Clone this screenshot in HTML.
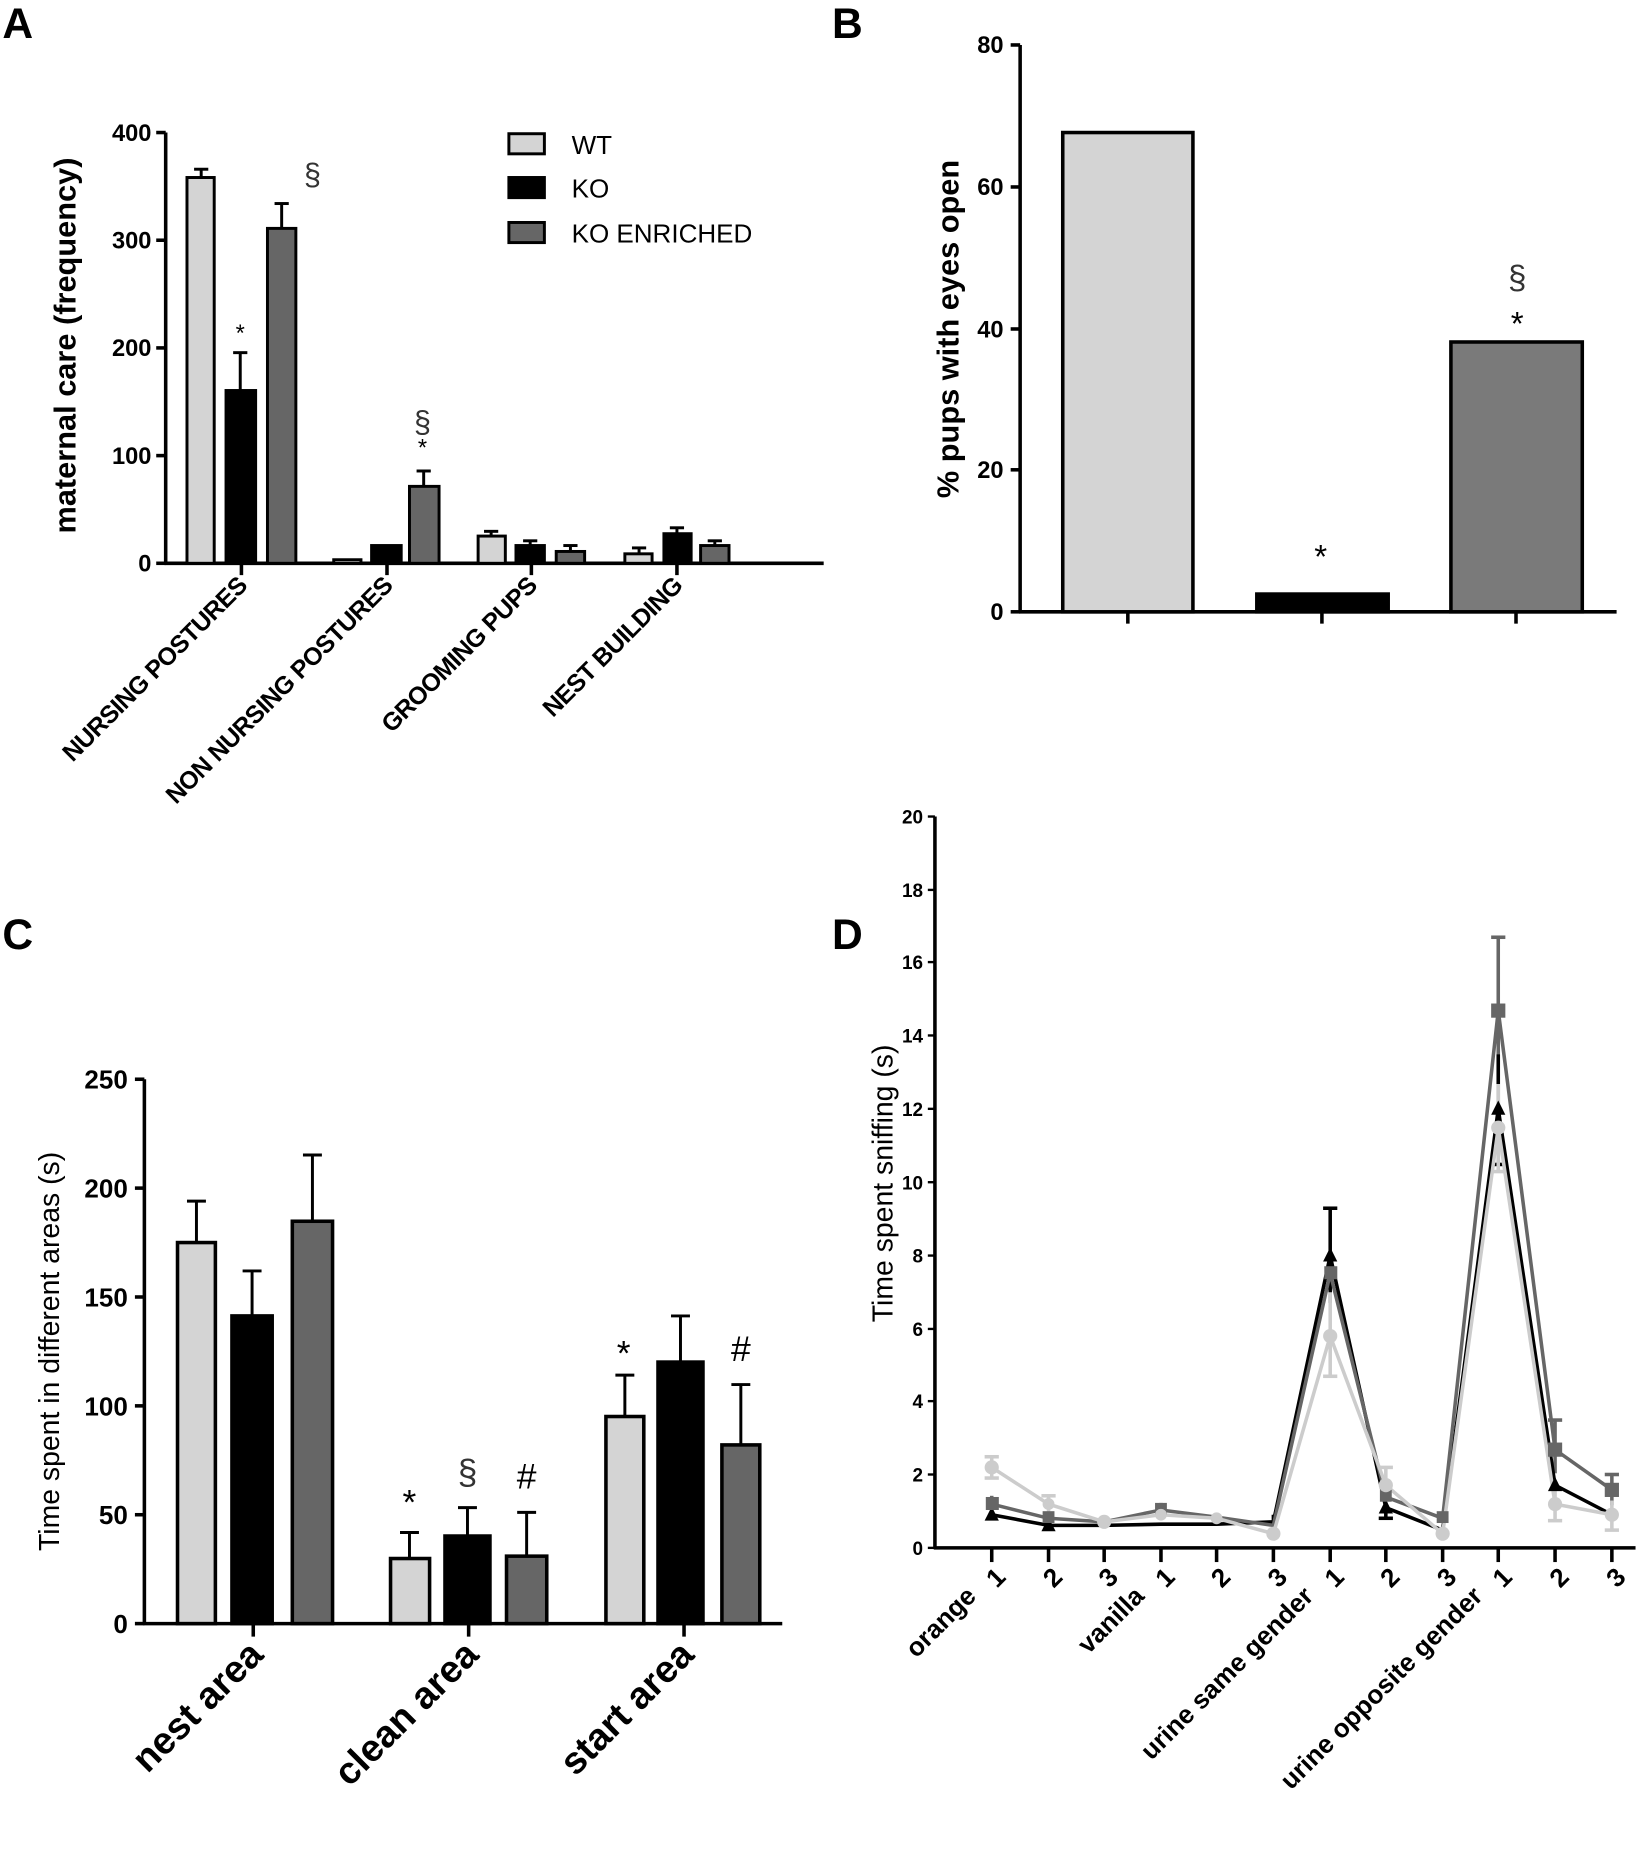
<!DOCTYPE html>
<html><head><meta charset="utf-8"><style>
html,body{margin:0;padding:0;background:#fff;}
svg{display:block;}
text{font-family:"Liberation Sans",Arial,sans-serif;}
</style></head><body>
<svg width="1645" height="1852" viewBox="0 0 1390 1565" preserveAspectRatio="none" xmlns="http://www.w3.org/2000/svg">
<rect width="1390" height="1565" fill="#fff"/>
<g font-weight="bold" font-size="36" fill="#000">
<text x="2" y="32">A</text><text x="703" y="32">B</text><text x="2" y="802">C</text><text x="703" y="802">D</text>
</g>

<!-- PANEL A -->
<g stroke="#000" stroke-width="3" fill="none">
<line x1="140" y1="112" x2="140" y2="477"/>
<line x1="139" y1="476" x2="696" y2="476"/>
<line x1="132" y1="112" x2="140" y2="112"/><line x1="132" y1="203" x2="140" y2="203"/><line x1="132" y1="294" x2="140" y2="294"/><line x1="132" y1="385" x2="140" y2="385"/><line x1="132" y1="476" x2="140" y2="476"/>
<line x1="204" y1="476" x2="204" y2="486"/><line x1="327" y1="476" x2="327" y2="486"/><line x1="449" y1="476" x2="449" y2="486"/><line x1="572" y1="476" x2="572" y2="486"/>
</g>
<g font-size="20" font-weight="bold" text-anchor="end">
<text x="128" y="119">400</text><text x="128" y="210">300</text><text x="128" y="301">200</text><text x="128" y="392">100</text><text x="128" y="483">0</text>
</g>
<text transform="translate(64,292) rotate(-90)" text-anchor="middle" font-size="26" font-weight="bold">maternal care (frequency)</text>
<g stroke="#000" stroke-width="2.5">
<line x1="170" y1="150" x2="170" y2="143"/><line x1="164" y1="143" x2="176" y2="143"/>
<line x1="203" y1="330" x2="203" y2="298"/><line x1="197" y1="298" x2="209" y2="298"/>
<line x1="238" y1="193" x2="238" y2="172"/><line x1="232" y1="172" x2="244" y2="172"/>
<line x1="358" y1="411" x2="358" y2="398"/><line x1="352" y1="398" x2="364" y2="398"/>
<line x1="415" y1="453" x2="415" y2="449"/><line x1="409" y1="449" x2="421" y2="449"/>
<line x1="448" y1="461" x2="448" y2="457"/><line x1="442" y1="457" x2="454" y2="457"/>
<line x1="482" y1="466" x2="482" y2="461"/><line x1="476" y1="461" x2="488" y2="461"/>
<line x1="540" y1="468" x2="540" y2="463"/><line x1="534" y1="463" x2="546" y2="463"/>
<line x1="572" y1="451" x2="572" y2="446"/><line x1="566" y1="446" x2="578" y2="446"/>
<line x1="604" y1="461" x2="604" y2="457"/><line x1="598" y1="457" x2="610" y2="457"/>
</g>
<g stroke="#000" stroke-width="2.5">
<rect x="158" y="150" width="23" height="326" fill="#d4d4d4"/>
<rect x="191" y="330" width="25" height="146" fill="#000"/>
<rect x="226" y="193" width="24" height="283" fill="#666"/>
<rect x="282" y="473" width="23" height="3" fill="#d4d4d4"/>
<rect x="314" y="461" width="25" height="15" fill="#000"/>
<rect x="346" y="411" width="25" height="65" fill="#666"/>
<rect x="404" y="453" width="23" height="23" fill="#d4d4d4"/>
<rect x="436" y="461" width="24" height="15" fill="#000"/>
<rect x="470" y="466" width="24" height="10" fill="#666"/>
<rect x="528" y="468" width="23" height="8" fill="#d4d4d4"/>
<rect x="561" y="451" width="23" height="25" fill="#000"/>
<rect x="592" y="461" width="24" height="15" fill="#666"/>
<rect x="430" y="113" width="30" height="17" fill="#d4d4d4"/>
<rect x="430" y="150" width="30" height="17" fill="#000"/>
<rect x="430" y="188" width="30" height="17" fill="#666"/>
</g>
<g font-size="22">
<text x="483" y="130">WT</text><text x="483" y="167">KO</text><text x="483" y="205">KO ENRICHED</text>
</g>
<g font-size="20" text-anchor="middle">
<text x="203" y="288">*</text><text x="357" y="385">*</text>
</g>
<g font-size="26" text-anchor="middle" fill="#333">
<text x="264" y="156">§</text><text x="357" y="365">§</text>
</g>
<g font-size="21" font-weight="bold" text-anchor="end" letter-spacing="-0.5">
<text transform="translate(210,496) rotate(-45)">NURSING POSTURES</text>
<text transform="translate(333,496) rotate(-45)">NON NURSING POSTURES</text>
<text transform="translate(455,496) rotate(-45)">GROOMING PUPS</text>
<text transform="translate(578,496) rotate(-45)">NEST BUILDING</text>
</g>

<!-- PANEL B -->
<g stroke="#000" stroke-width="3" fill="none">
<line x1="862" y1="38" x2="862" y2="518"/>
<line x1="861" y1="517" x2="1366" y2="517"/>
<line x1="854" y1="38" x2="862" y2="38"/><line x1="854" y1="158" x2="862" y2="158"/><line x1="854" y1="278" x2="862" y2="278"/><line x1="854" y1="397" x2="862" y2="397"/><line x1="854" y1="517" x2="862" y2="517"/>
<line x1="953" y1="517" x2="953" y2="527"/><line x1="1117" y1="517" x2="1117" y2="527"/><line x1="1281" y1="517" x2="1281" y2="527"/>
</g>
<g font-size="20" font-weight="bold" text-anchor="end">
<text x="848" y="45">80</text><text x="848" y="165">60</text><text x="848" y="285">40</text><text x="848" y="404">20</text><text x="848" y="524">0</text>
</g>
<text transform="translate(810,278) rotate(-90)" text-anchor="middle" font-size="26" font-weight="bold">% pups with eyes open</text>
<g stroke="#000" stroke-width="3">
<rect x="898" y="112" width="110" height="405" fill="#d4d4d4"/>
<rect x="1062" y="502" width="111" height="15" fill="#000"/>
<rect x="1226" y="289" width="111" height="228" fill="#7a7a7a"/>
</g>
<g font-size="28" text-anchor="middle">
<text x="1116" y="480">*</text><text x="1282" y="283">*</text>
</g>
<text x="1282" y="244" font-size="28" text-anchor="middle" fill="#333">§</text>

<!-- PANEL C -->
<g stroke="#000" stroke-width="3" fill="none">
<line x1="122" y1="912" x2="122" y2="1373"/>
<line x1="121" y1="1372" x2="661" y2="1372"/>
<line x1="114" y1="912" x2="122" y2="912"/><line x1="114" y1="1004" x2="122" y2="1004"/><line x1="114" y1="1096" x2="122" y2="1096"/><line x1="114" y1="1188" x2="122" y2="1188"/><line x1="114" y1="1280" x2="122" y2="1280"/><line x1="114" y1="1372" x2="122" y2="1372"/>
<line x1="214" y1="1372" x2="214" y2="1383"/><line x1="396" y1="1372" x2="396" y2="1383"/><line x1="578" y1="1372" x2="578" y2="1383"/>
</g>
<g font-size="22" font-weight="bold" text-anchor="end">
<text x="108" y="920">250</text><text x="108" y="1012">200</text><text x="108" y="1104">150</text><text x="108" y="1196">100</text><text x="108" y="1288">50</text><text x="108" y="1380">0</text>
</g>
<text transform="translate(50,1142) rotate(-90)" text-anchor="middle" font-size="24">Time spent in different areas (s)</text>
<g stroke="#000" stroke-width="2.5">
<line x1="166" y1="1050" x2="166" y2="1015"/><line x1="158" y1="1015" x2="174" y2="1015"/>
<line x1="213" y1="1112" x2="213" y2="1074"/><line x1="205" y1="1074" x2="221" y2="1074"/>
<line x1="264" y1="1032" x2="264" y2="976"/><line x1="256" y1="976" x2="272" y2="976"/>
<line x1="346" y1="1317" x2="346" y2="1295"/><line x1="338" y1="1295" x2="354" y2="1295"/>
<line x1="395" y1="1298" x2="395" y2="1274"/><line x1="387" y1="1274" x2="403" y2="1274"/>
<line x1="445" y1="1315" x2="445" y2="1278"/><line x1="437" y1="1278" x2="453" y2="1278"/>
<line x1="528" y1="1197" x2="528" y2="1162"/><line x1="520" y1="1162" x2="536" y2="1162"/>
<line x1="575" y1="1151" x2="575" y2="1112"/><line x1="567" y1="1112" x2="583" y2="1112"/>
<line x1="626" y1="1221" x2="626" y2="1170"/><line x1="618" y1="1170" x2="634" y2="1170"/>
</g>
<g stroke="#000" stroke-width="3">
<rect x="150" y="1050" width="32" height="322" fill="#d4d4d4"/>
<rect x="196" y="1112" width="34" height="260" fill="#000"/>
<rect x="247" y="1032" width="34" height="340" fill="#666"/>
<rect x="330" y="1317" width="33" height="55" fill="#d4d4d4"/>
<rect x="376" y="1298" width="38" height="74" fill="#000"/>
<rect x="428" y="1315" width="34" height="57" fill="#666"/>
<rect x="512" y="1197" width="32" height="175" fill="#d4d4d4"/>
<rect x="556" y="1151" width="38" height="221" fill="#000"/>
<rect x="610" y="1221" width="32" height="151" fill="#666"/>
</g>
<g font-size="30" text-anchor="middle">
<text x="346" y="1280">*</text><text x="445" y="1258">#</text><text x="527" y="1154">*</text><text x="626" y="1150">#</text>
</g>
<text x="395" y="1254" font-size="30" text-anchor="middle" fill="#333">§</text>
<g font-size="32" font-weight="bold" text-anchor="end">
<text transform="translate(224,1400) rotate(-45)">nest area</text>
<text transform="translate(406,1400) rotate(-45)">clean area</text>
<text transform="translate(588,1400) rotate(-45)">start area</text>
</g>

<!-- PANEL D -->
<g stroke="#000" stroke-width="3" fill="none">
<line x1="790" y1="690" x2="790" y2="1309"/>
<line x1="789" y1="1308" x2="1382" y2="1308"/>
<line x1="838" y1="1308" x2="838" y2="1320"/><line x1="886" y1="1308" x2="886" y2="1320"/><line x1="933" y1="1308" x2="933" y2="1320"/><line x1="981" y1="1308" x2="981" y2="1320"/><line x1="1028" y1="1308" x2="1028" y2="1320"/><line x1="1076" y1="1308" x2="1076" y2="1320"/><line x1="1124" y1="1308" x2="1124" y2="1320"/><line x1="1171" y1="1308" x2="1171" y2="1320"/><line x1="1219" y1="1308" x2="1219" y2="1320"/><line x1="1266" y1="1308" x2="1266" y2="1320"/><line x1="1314" y1="1308" x2="1314" y2="1320"/><line x1="1362" y1="1308" x2="1362" y2="1320"/>
</g>
<g stroke="#000" stroke-width="2">
<line x1="784" y1="690" x2="790" y2="690"/><line x1="784" y1="752" x2="790" y2="752"/><line x1="784" y1="813" x2="790" y2="813"/><line x1="784" y1="875" x2="790" y2="875"/><line x1="784" y1="937" x2="790" y2="937"/><line x1="784" y1="999" x2="790" y2="999"/><line x1="784" y1="1061" x2="790" y2="1061"/><line x1="784" y1="1123" x2="790" y2="1123"/><line x1="784" y1="1184" x2="790" y2="1184"/><line x1="784" y1="1246" x2="790" y2="1246"/><line x1="784" y1="1308" x2="790" y2="1308"/>
</g>
<g font-size="16" font-weight="bold" text-anchor="end">
<text x="780" y="696">20</text><text x="780" y="758">18</text><text x="780" y="819">16</text><text x="780" y="881">14</text><text x="780" y="943">12</text><text x="780" y="1005">10</text><text x="780" y="1067">8</text><text x="780" y="1129">6</text><text x="780" y="1190">4</text><text x="780" y="1252">2</text><text x="780" y="1314">0</text>
</g>
<text transform="translate(754,1000) rotate(-90)" text-anchor="middle" font-size="24">Time spent sniffing (s)</text>
<g stroke-width="3">
<g stroke="#666">
<line x1="1266" y1="792" x2="1266" y2="916"/><line x1="1260" y1="792" x2="1272" y2="792"/>
<line x1="1314" y1="1200" x2="1314" y2="1245"/><line x1="1308" y1="1200" x2="1320" y2="1200"/>
<line x1="1362" y1="1246" x2="1362" y2="1272"/><line x1="1356" y1="1246" x2="1368" y2="1246"/>
<line x1="838" y1="1264" x2="838" y2="1278"/><line x1="981" y1="1270" x2="981" y2="1282"/>
</g>
<g stroke="#000">
<line x1="1124" y1="1021" x2="1124" y2="1101"/><line x1="1118" y1="1021" x2="1130" y2="1021"/>
<line x1="1266" y1="891" x2="1266" y2="984"/><line x1="1260" y1="984" x2="1272" y2="984"/>
<line x1="1171" y1="1265" x2="1171" y2="1283"/><line x1="1165" y1="1283" x2="1177" y2="1283"/>
<line x1="1076" y1="1280" x2="1076" y2="1292"/>
</g>
<g stroke="#ccc">
<line x1="838" y1="1231" x2="838" y2="1249"/><line x1="832" y1="1231" x2="844" y2="1231"/><line x1="832" y1="1249" x2="844" y2="1249"/>
<line x1="886" y1="1264" x2="886" y2="1278"/><line x1="880" y1="1264" x2="892" y2="1264"/>
<line x1="1124" y1="1092" x2="1124" y2="1163"/><line x1="1118" y1="1163" x2="1130" y2="1163"/>
<line x1="1266" y1="916" x2="1266" y2="990"/><line x1="1260" y1="990" x2="1272" y2="990"/>
<line x1="1171" y1="1240" x2="1171" y2="1270"/><line x1="1165" y1="1240" x2="1177" y2="1240"/>
<line x1="1314" y1="1255" x2="1314" y2="1285"/><line x1="1308" y1="1285" x2="1320" y2="1285"/>
<line x1="1362" y1="1268" x2="1362" y2="1293"/><line x1="1356" y1="1293" x2="1368" y2="1293"/>
</g>
</g>
<polyline fill="none" stroke="#000" stroke-width="3" points="838,1280 886,1289 933,1289 981,1288 1028,1288 1076,1286 1124,1061 1171,1274 1219,1293 1266,937 1314,1255 1362,1280"/>
<polyline fill="none" stroke="#666" stroke-width="3" points="838,1271 886,1283 933,1286 981,1276 1028,1282 1076,1289 1124,1076 1171,1265 1219,1283 1266,854 1314,1225 1362,1259"/>
<polyline fill="none" stroke="#ccc" stroke-width="3" points="838,1240 886,1271 933,1286 981,1280 1028,1283 1076,1296 1124,1129 1171,1255 1219,1296 1266,953 1314,1271 1362,1280"/>
<g fill="#000">
<polygon points="838,1273 832,1285 844,1285"/><polygon points="886,1282 880,1294 892,1294"/><polygon points="1124,1054 1118,1066 1130,1066"/><polygon points="1266,930 1260,942 1272,942"/><polygon points="1314,1248 1308,1260 1320,1260"/><polygon points="1171,1267 1165,1279 1177,1279"/>
</g>
<g fill="#666">
<rect x="833" y="1265" width="11" height="11"/><rect x="881" y="1277" width="10" height="10"/><rect x="976" y="1270" width="10" height="10"/><rect x="1119" y="1070" width="11" height="11"/><rect x="1166" y="1259" width="10" height="10"/><rect x="1214" y="1277" width="10" height="10"/><rect x="1260" y="848" width="12" height="12"/><rect x="1308" y="1219" width="12" height="12"/><rect x="1356" y="1253" width="12" height="12"/>
</g>
<g fill="#ccc">
<circle cx="838" cy="1240" r="6"/><circle cx="886" cy="1271" r="5"/><circle cx="933" cy="1286" r="6"/><circle cx="981" cy="1280" r="5"/><circle cx="1028" cy="1283" r="5"/><circle cx="1076" cy="1296" r="6"/><circle cx="1124" cy="1129" r="6"/><circle cx="1171" cy="1255" r="6"/><circle cx="1219" cy="1296" r="6"/><circle cx="1266" cy="953" r="6"/><circle cx="1314" cy="1271" r="6"/><circle cx="1362" cy="1280" r="6"/>
</g>
<g font-size="22" font-weight="bold" text-anchor="end">
<text transform="translate(851,1334) rotate(-45)">1</text>
<text transform="translate(899,1334) rotate(-45)">2</text>
<text transform="translate(946,1334) rotate(-45)">3</text>
<text transform="translate(994,1334) rotate(-45)">1</text>
<text transform="translate(1041,1334) rotate(-45)">2</text>
<text transform="translate(1089,1334) rotate(-45)">3</text>
<text transform="translate(1137,1334) rotate(-45)">1</text>
<text transform="translate(1184,1334) rotate(-45)">2</text>
<text transform="translate(1232,1334) rotate(-45)">3</text>
<text transform="translate(1279,1334) rotate(-45)">1</text>
<text transform="translate(1327,1334) rotate(-45)">2</text>
<text transform="translate(1375,1334) rotate(-45)">3</text>
<text transform="translate(826,1350) rotate(-45)">orange</text>
<text transform="translate(968,1350) rotate(-45)">vanilla</text>
<text transform="translate(1111,1350) rotate(-45)">urine same gender</text>
<text transform="translate(1254,1350) rotate(-45)">urine opposite gender</text>
</g>
</svg>
</body></html>
